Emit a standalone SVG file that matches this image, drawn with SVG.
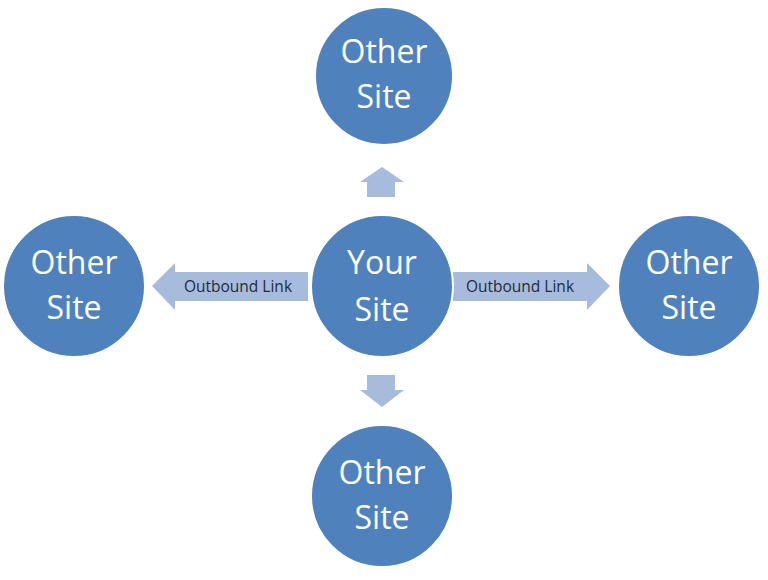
<svg xmlns="http://www.w3.org/2000/svg" width="768" height="580" viewBox="0 0 768 580">
<style>
.n{fill:#4f81bd;stroke:#ffffff;stroke-width:2}
.t{font-family:"Open Sans","DejaVu Sans",sans-serif;font-size:32px;fill:#ffffff;text-anchor:middle}
.a{fill:#a7bcdc}
.l{font-family:"Open Sans","DejaVu Sans",sans-serif;font-size:15.5px;fill:#1f2a3a;text-anchor:middle}
</style>
<rect width="768" height="580" fill="#ffffff"/>
<g id="connectors">
<polygon class="a" points="152,286 175,263 175,272 308,272 308,301 175,301 175,310"/>
<text class="l" x="238" y="292">Outbound Link</text>
<polygon class="a" points="610,286 587,263 587,272 453,272 453,301 587,301 587,310"/>
<text class="l" x="520" y="292">Outbound Link</text>
<polygon class="a" points="382,167 404,182 395,182 395,197 367,197 367,182 360,182"/>
<polygon class="a" points="382,407 404,390 395,390 395,375 367,375 367,390 360,390"/>
</g>
<g id="center"><circle class="n" cx="382" cy="286" r="71"/><text class="t" x="382" y="274">Your</text><text class="t" x="382" y="321">Site</text></g>
<g id="top"><circle class="n" cx="384" cy="76" r="69"/><text class="t" x="384" y="63">Other</text><text class="t" x="384" y="108">Site</text></g>
<g id="left"><circle class="n" cx="74" cy="286" r="71"/><text class="t" x="74" y="274">Other</text><text class="t" x="74" y="319">Site</text></g>
<g id="right"><circle class="n" cx="689" cy="286" r="71"/><text class="t" x="689" y="274">Other</text><text class="t" x="689" y="319">Site</text></g>
<g id="bottom"><circle class="n" cx="382" cy="496" r="71"/><text class="t" x="382" y="484">Other</text><text class="t" x="382" y="529">Site</text></g>
</svg>
